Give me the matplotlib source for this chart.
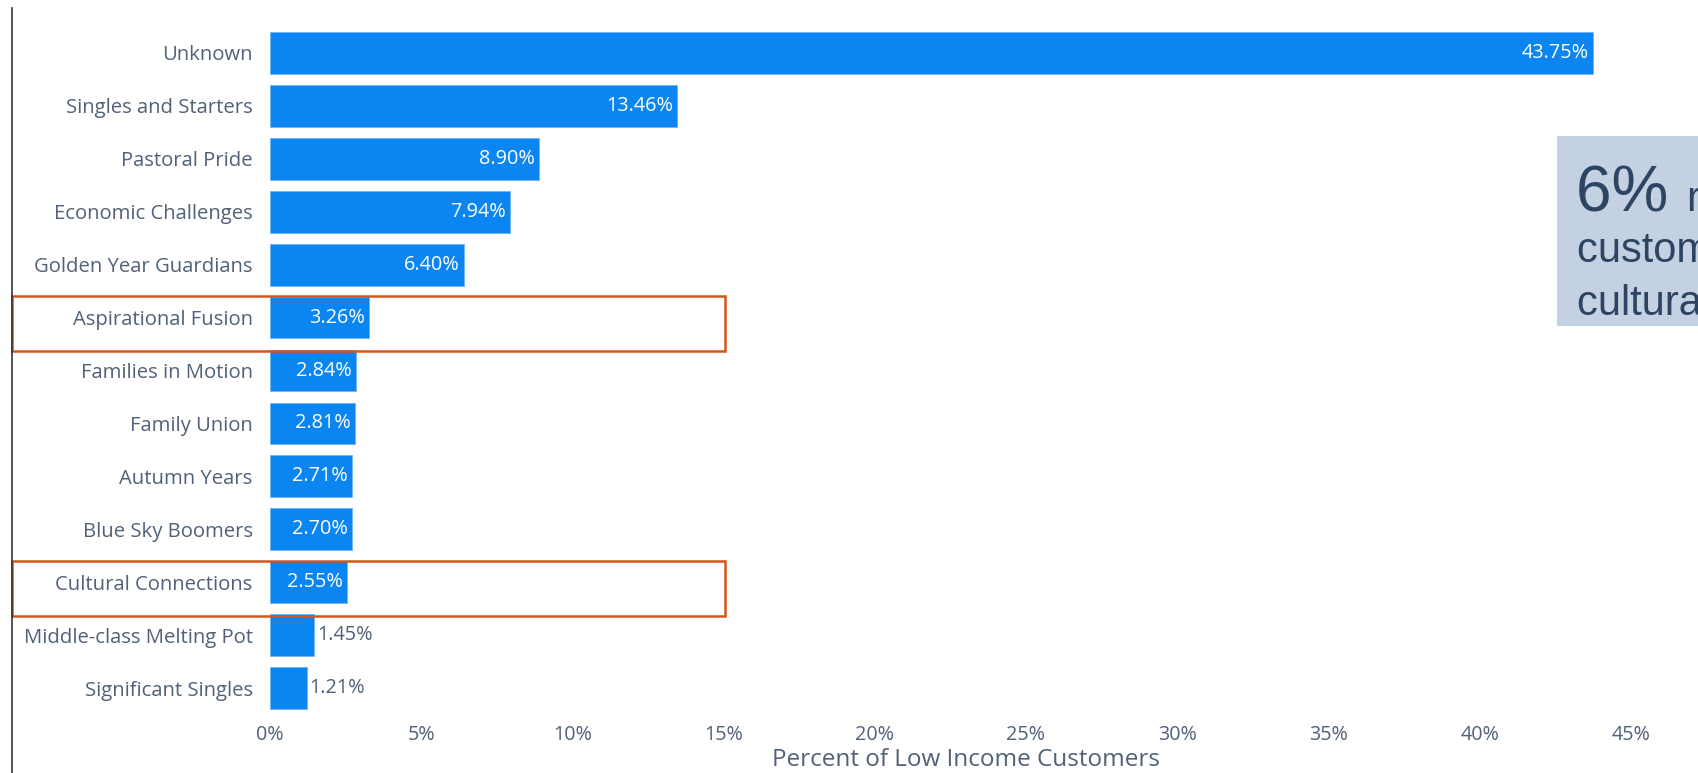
import matplotlib
matplotlib.use("Agg")
import matplotlib.pyplot as plt
from matplotlib.patches import Rectangle
from matplotlib.lines import Line2D
from matplotlib.transforms import blended_transform_factory

# Segment shares of low income customers
segments = [
    "Unknown", "Singles and Starters", "Pastoral Pride", "Economic Challenges",
    "Golden Year Guardians", "Aspirational Fusion", "Families in Motion",
    "Family Union", "Autumn Years", "Blue Sky Boomers", "Cultural Connections",
    "Middle-class Melting Pot", "Significant Singles",
]
shares = [43.75, 13.46, 8.90, 7.94, 6.40, 3.26, 2.84, 2.81, 2.71, 2.70, 2.55, 1.45, 1.21]
x_ticks = [0, 5, 10, 15, 20, 25, 30, 35, 40, 45]
highlighted = ["Aspirational Fusion", "Cultural Connections"]

BAR = "#0A85F2"
TEXT = "#516178"
ORANGE = "#D4561B"
FONT = ["Open Sans", "DejaVu Sans"]

plt.rcParams["font.family"] = FONT

W, H = 1699, 773
fig = plt.figure(figsize=(W / 100, H / 100), dpi=100)
ax = fig.add_axes([270 / W, (H - 714.5) / H, 1391 / W, 688 / H])

y = list(range(len(segments)))
ax.barh(y, shares, height=0.79, color=BAR, edgecolor="#6FB4F5", linewidth=0.6)
ax.set_ylim(len(segments) - 0.5, -0.5)
ax.set_xlim(0, 46)

ax.set_yticks(y)
ax.set_yticklabels(segments, fontsize=14.6, color=TEXT)
ax.set_xticks(x_ticks)
ax.set_xticklabels([f"{t}%" for t in x_ticks], fontsize=14.2, color=TEXT)
ax.tick_params(axis="y", length=0, pad=12.5)
ax.tick_params(axis="x", length=0, pad=7.5)
for s in ax.spines.values():
    s.set_visible(False)
ax.set_xlabel("Percent of Low Income Customers", fontsize=17.5, color=TEXT)
ax.xaxis.set_label_coords((966 - 270) / 1391, -(760 - 714.5) / 688)
ax.xaxis.label.set_va("center")

# Value labels: inside the bar when they fit, otherwise just past its end
fig.canvas.draw()
renderer = fig.canvas.get_renderer()
px_per_unit = ax.transData.transform((1, 0))[0] - ax.transData.transform((0, 0))[0]
for yi, v in zip(y, shares):
    label = f"{v:.2f}%"
    t = ax.text(0, yi, label, fontsize=14.3, va="center")
    tw = t.get_window_extent(renderer).width
    t.remove()
    if tw + 8 < v * px_per_unit:
        ax.text(v - 4 / px_per_unit, yi, label, fontsize=14.3, color="white",
                ha="right", va="center")
    else:
        ax.text(v + 3 / px_per_unit, yi, label, fontsize=14.3, color=TEXT,
                ha="left", va="center")

# Outline boxes around the cultural segments
trans = blended_transform_factory(fig.transFigure, ax.transData)
for name in highlighted:
    i = segments.index(name)
    ax.add_patch(Rectangle((12 / W, i + 0.64), (725 - 12) / W, -1.04,
                           transform=trans, fill=False, edgecolor=ORANGE,
                           linewidth=1.8, clip_on=False, zorder=5))

# Left rule
fig.add_artist(Line2D([12 / W, 12 / W], [0, (H - 8) / H], color="#333333", linewidth=1.2))

# Callout box on the right
fig.add_artist(Rectangle((1557 / W, (H - 326) / H), 200 / W, (326 - 136) / H,
                         transform=fig.transFigure, facecolor="#C3D1E2",
                         edgecolor="none", zorder=1))
callout_color = "#2D4463"
cfont = ["Liberation Sans", "DejaVu Sans"]
big = fig.text(1576 / W, (H - 211) / H, "6% ", fontsize=46, color=callout_color,
               family=cfont, va="baseline", ha="left")
fig.canvas.draw()
bx = big.get_window_extent(fig.canvas.get_renderer()).x1
fig.text(bx / W, (H - 211) / H, "represent", fontsize=30,
         color=callout_color, family=cfont, va="baseline", ha="left")
fig.text(1577 / W, (H - 262) / H, "customers from", fontsize=30,
         color=callout_color, family=cfont, va="baseline", ha="left")
fig.text(1577 / W, (H - 315) / H, "cultural segments", fontsize=30,
         color=callout_color, family=cfont, va="baseline", ha="left")

fig.savefig("out.png", dpi=100, facecolor="white")
